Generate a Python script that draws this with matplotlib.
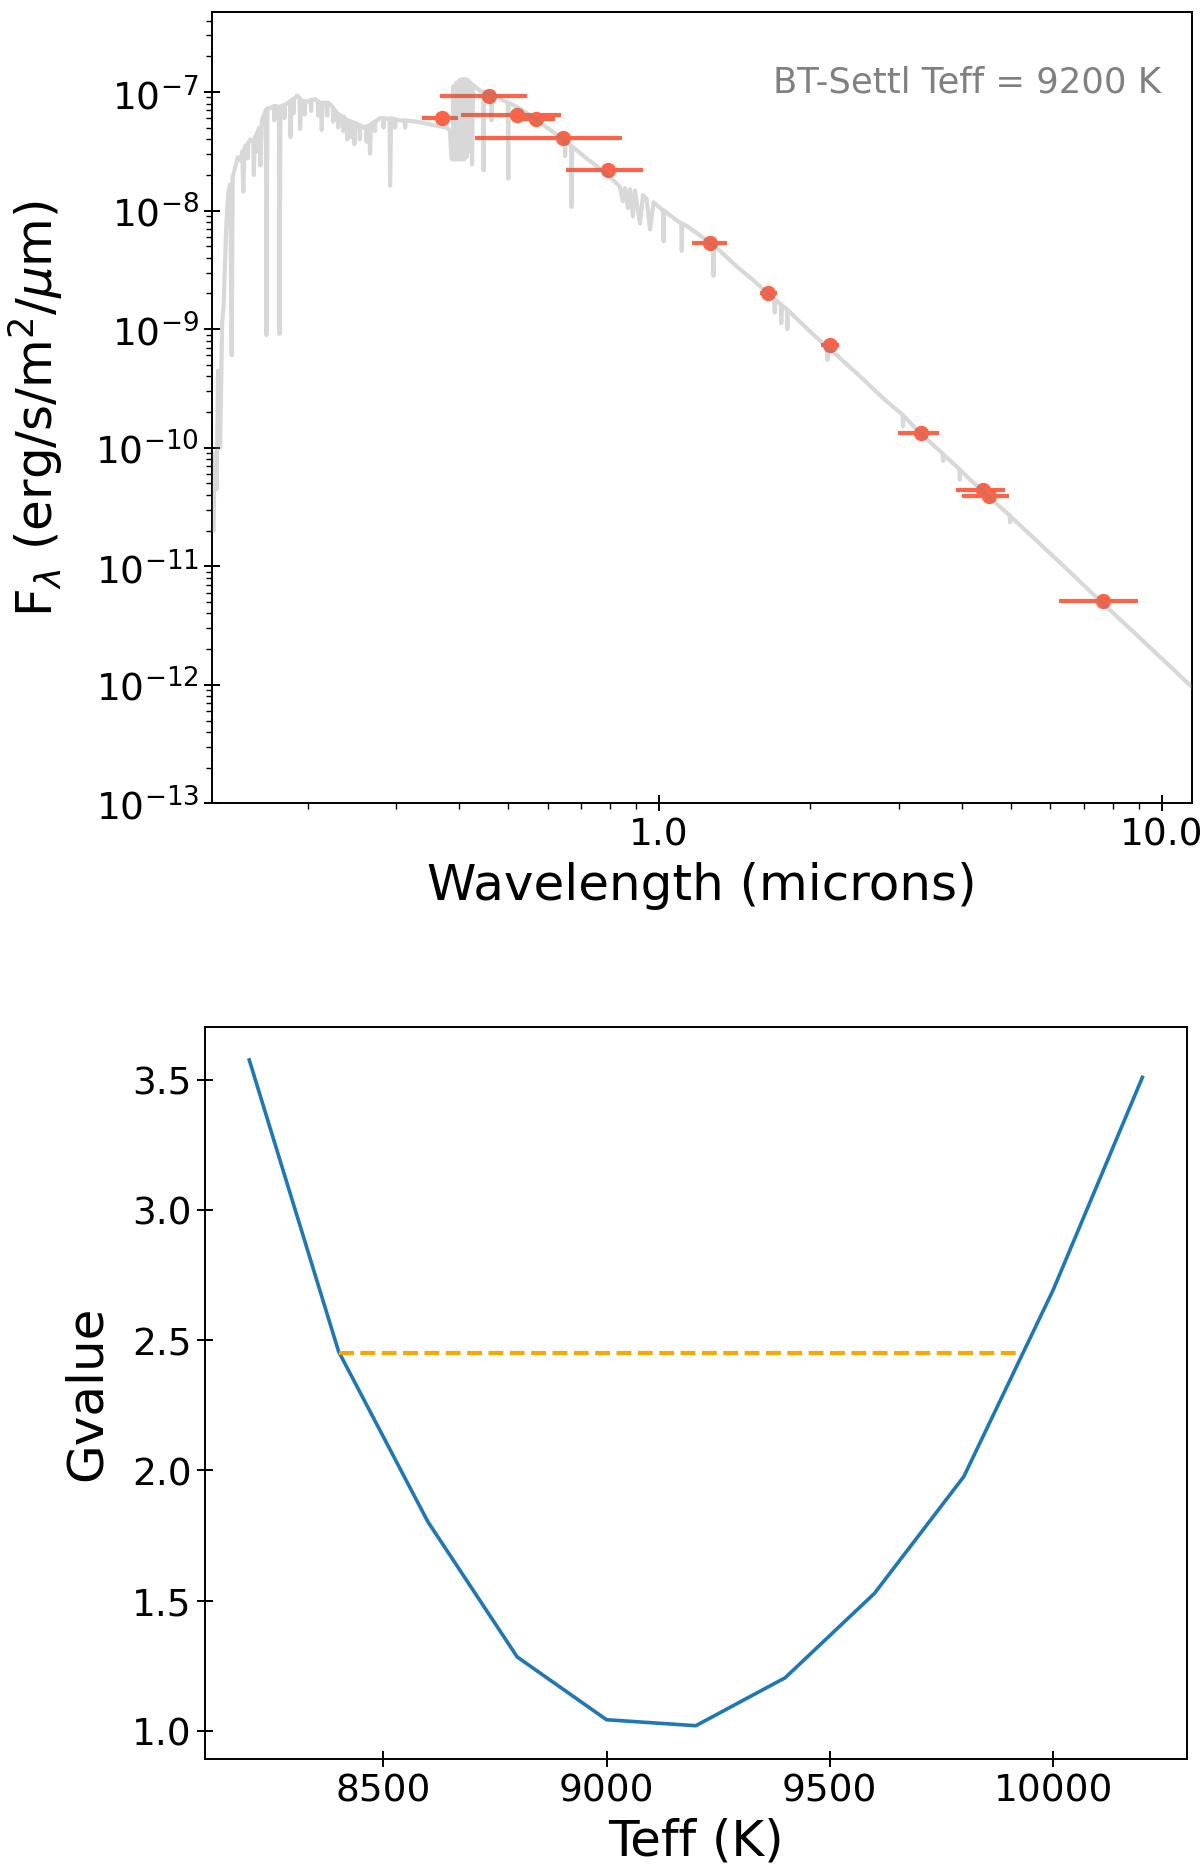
import numpy as np
import matplotlib
matplotlib.use("Agg")
import matplotlib.pyplot as plt
from matplotlib.ticker import LogLocator, FixedLocator, FormatStrFormatter, NullFormatter

# BT-Settl model spectrum (log10 of microns, log10 of flux)
model_logwave = [
    -0.892, -0.886, -0.884, -0.880, -0.877, -0.873, -0.869, -0.866, -0.861, -0.857,
    -0.853, -0.850, -0.848, -0.844, -0.838, -0.832,
    -0.829, -0.827, -0.824, -0.819, -0.818, -0.817, -0.813,
    -0.807, -0.806, -0.804, -0.801, -0.800, -0.799,
    -0.795, -0.793, -0.790, -0.782, -0.781, -0.779, -0.770,
    -0.766, -0.765, -0.764, -0.760, -0.756, -0.755, -0.753,
    -0.746, -0.745, -0.744, -0.741, -0.734, -0.733, -0.731,
    -0.728, -0.727, -0.726, -0.720, -0.715, -0.714, -0.712,
    -0.706, -0.705, -0.704, -0.700, -0.693, -0.692, -0.691, -0.684,
    -0.679, -0.678, -0.677, -0.672, -0.671, -0.669,
    -0.661, -0.660, -0.659, -0.655, -0.649, -0.648, -0.647,
    -0.640, -0.638, -0.636, -0.629, -0.628, -0.627,
    -0.621, -0.620, -0.618, -0.613, -0.612, -0.611,
    -0.607, -0.606, -0.604, -0.596, -0.595, -0.594, -0.588,
    -0.583, -0.582, -0.581, -0.576, -0.575, -0.573,
    -0.566, -0.565, -0.564, -0.555, -0.549, -0.548, -0.547,
    -0.536, -0.535, -0.533, -0.526, -0.525, -0.524, -0.515,
    -0.506, -0.505, -0.504, -0.482, -0.449, -0.422, -0.416,
    -0.413, -0.410, -0.409, -0.406, -0.403, -0.400, -0.397, -0.394, -0.391, -0.388,
    -0.385, -0.383, -0.380, -0.377, -0.375, -0.372, -0.370,
    -0.356, -0.350, -0.349, -0.348, -0.334, -0.333, -0.332, -0.323,
    -0.301, -0.300, -0.299, -0.276, -0.243, -0.210,
    -0.188, -0.187, -0.186, -0.175, -0.174, -0.173, -0.144, -0.104, -0.078,
    -0.072, -0.068, -0.062, -0.058, -0.052, -0.048, -0.038, -0.032, -0.025, -0.018, -0.011,
    0.008, 0.009, 0.010, 0.022, 0.044, 0.045, 0.046, 0.055, 0.088,
    0.107, 0.108, 0.109, 0.121, 0.154, 0.188, 0.221,
    0.229, 0.230, 0.231, 0.242, 0.243, 0.244, 0.254, 0.255, 0.256,
    0.300, 0.334, 0.335, 0.336, 0.343, 0.400, 0.450,
    0.484, 0.485, 0.486, 0.515, 0.564, 0.565, 0.566,
    0.597, 0.598, 0.599, 0.641, 0.697, 0.698, 0.699,
    0.800, 0.879, 0.950, 1.070,
]
model_logflux = [
    -10.65, -10.70, -10.05, -10.35, -9.35, -10.00, -8.95, -8.80, -8.15, -7.85,
    -7.78, -9.22, -7.72, -7.65, -7.55, -7.58,
    -7.50, -7.84, -7.46, -7.44, -7.56, -7.43, -7.40,
    -7.42, -7.70, -7.38, -7.36, -7.50, -7.34,
    -7.30, -7.62, -7.24, -7.15, -9.05, -7.14, -7.13,
    -7.12, -7.24, -7.12, -7.12, -7.13, -9.04, -7.12,
    -7.11, -7.22, -7.11, -7.10, -7.08, -7.38, -7.07,
    -7.06, -7.18, -7.06, -7.03, -7.05, -7.31, -7.07,
    -7.08, -7.19, -7.08, -7.08, -7.07, -7.16, -7.07, -7.06,
    -7.08, -7.20, -7.08, -7.10, -7.32, -7.09,
    -7.09, -7.20, -7.09, -7.10, -7.13, -7.25, -7.14,
    -7.18, -7.30, -7.19, -7.21, -7.33, -7.21,
    -7.24, -7.40, -7.24, -7.25, -7.38, -7.25,
    -7.26, -7.44, -7.26, -7.28, -7.40, -7.28, -7.30,
    -7.29, -7.42, -7.29, -7.28, -7.52, -7.27,
    -7.25, -7.33, -7.25, -7.22, -7.22, -7.30, -7.22,
    -7.23, -7.79, -7.22, -7.23, -7.30, -7.23, -7.24,
    -7.24, -7.30, -7.24, -7.25, -7.28, -7.30, -7.33,
    -7.56, -7.57, -6.95, -7.57, -6.92, -7.57, -6.90, -7.57, -6.89, -7.57,
    -6.89, -7.55, -6.90, -7.50, -6.92, -7.61, -6.94,
    -6.99, -7.00, -7.66, -7.00, -7.02, -7.24, -7.02, -7.04,
    -7.09, -7.73, -7.09, -7.14, -7.24, -7.34,
    -7.41, -7.54, -7.42, -7.45, -7.97, -7.46, -7.56, -7.69, -7.80,
    -7.92, -7.81, -7.98, -7.82, -8.05, -7.83, -8.11, -7.87, -7.90, -8.16, -7.93,
    -8.00, -8.26, -8.00, -8.04, -8.11, -8.34, -8.11, -8.13, -8.23,
    -8.30, -8.55, -8.30, -8.34, -8.47, -8.59, -8.72,
    -8.74, -8.86, -8.75, -8.79, -8.95, -8.80, -8.83, -9.00, -8.84,
    -9.02, -9.15, -9.26, -9.15, -9.18, -9.40, -9.60,
    -9.72, -9.82, -9.73, -9.86, -10.05, -10.11, -10.06,
    -10.18, -10.27, -10.19, -10.36, -10.57, -10.63, -10.58,
    -10.98, -11.30, -11.58, -12.06,
]

# photometry (microns, erg/s/m2/um) and filter extents
phot_wave = [0.370, 0.459, 0.521, 0.569, 0.644, 0.793, 1.265, 1.65, 2.19, 3.31, 4.40, 4.52, 7.62]
phot_lo = [0.337, 0.366, 0.403, 0.529, 0.430, 0.653, 1.164, 1.588, 2.097, 2.99, 3.89, 4.00, 6.24]
phot_hi = [0.399, 0.547, 0.638, 0.621, 0.845, 0.927, 1.366, 1.715, 2.275, 3.61, 4.88, 4.96, 8.95]
phot_flux = [6.0e-8, 9.2e-8, 6.44e-8, 5.9e-8, 4.09e-8, 2.2e-8, 5.37e-9, 2.0e-9,
             7.4e-10, 1.32e-10, 4.4e-11, 3.92e-11, 5.07e-12]

# goodness of fit against model temperature
teff_grid = [8200, 8400, 8600, 8800, 9000, 9200, 9400, 9600, 9800, 10000, 10200]
gvalue = [3.576, 2.457, 1.803, 1.284, 1.043, 1.020, 1.204, 1.528, 1.976, 2.692, 3.509]
g_cut = 2.45
cut_range = [8400, 9930]

fig = plt.figure(figsize=(12, 18.65), dpi=100)

# ---- SED ----
ax1 = fig.add_axes([0.1767, 0.5687, 0.8164, 0.4245])
w = np.array(phot_wave)
xerr = [w - np.array(phot_lo), np.array(phot_hi) - w]
ax1.errorbar(phot_wave, phot_flux, xerr=xerr, fmt='o', color='tomato',
             ms=10, elinewidth=3, capsize=0, zorder=2)
ax1.plot(10 ** np.array(model_logwave), 10 ** np.array(model_logflux),
         color='0.5', alpha=0.3, lw=3.0, zorder=3)

ax1.set_xscale('log')
ax1.set_yscale('log')
ax1.set_xlim(0.1291, 11.46)
ax1.set_ylim(1e-13, 4.76e-7)

ax1.xaxis.set_major_locator(FixedLocator([0.1, 1.0, 10.0]))
ax1.xaxis.set_major_formatter(FormatStrFormatter('%.1f'))
ax1.xaxis.set_minor_locator(LogLocator(base=10, subs=np.arange(2, 10), numticks=20))
ax1.xaxis.set_minor_formatter(NullFormatter())
ax1.yaxis.set_major_locator(LogLocator(base=10, numticks=20))
ax1.yaxis.set_minor_locator(LogLocator(base=10, subs=np.arange(2, 10), numticks=20))
ax1.yaxis.set_minor_formatter(NullFormatter())

ax1.set_xlabel('Wavelength (microns)', fontsize=36, labelpad=6)
ax1.set_ylabel(r'F$_\lambda$ (erg/s/m$^2$/$\mu$m)', fontsize=36, labelpad=22)
ax1.text(0.969, 0.899, 'BT-Settl Teff = 9200 K', transform=ax1.transAxes,
         ha='right', va='baseline', fontsize=25.5, color='gray')

# ---- G vs Teff ----
ax2 = fig.add_axes([0.1705, 0.0563, 0.8187, 0.3927])
ax2.plot(teff_grid, gvalue, color='#1f77b4', lw=2.6)
ax2.hlines(g_cut, cut_range[0], cut_range[1], colors='orange', linestyles='dashed', lw=2.9)
ax2.set_xticks([8500, 9000, 9500, 10000])
ax2.set_yticks([1.0, 1.5, 2.0, 2.5, 3.0, 3.5])
ax2.set_xlabel('Teff (K)', fontsize=36, labelpad=6)
ax2.set_ylabel('Gvalue', fontsize=36, labelpad=15)

for ax in (ax1, ax2):
    for s in ax.spines.values():
        s.set_linewidth(1.4)
    ax.tick_params(which='major', direction='inout', length=12, width=1.4, labelsize=27)
    ax.tick_params(which='minor', direction='out', length=4.5, width=1.0)

fig.savefig('out.png', dpi=100)
